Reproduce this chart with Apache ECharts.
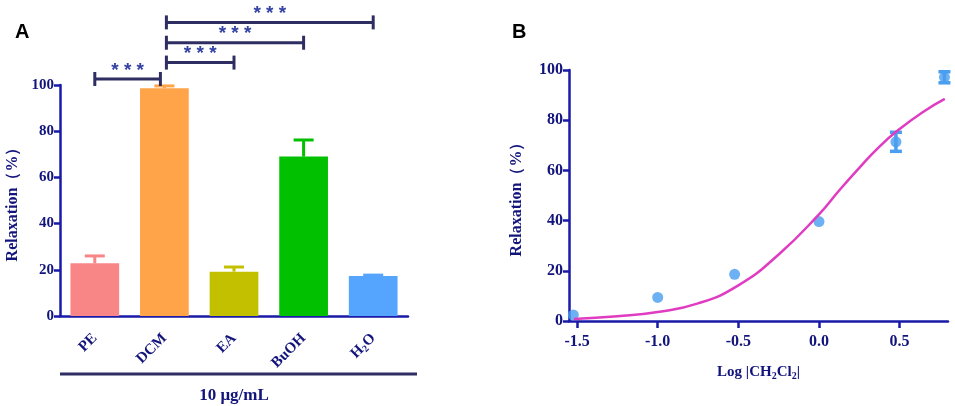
<!DOCTYPE html>
<html>
<head>
<meta charset="utf-8">
<script src="https://cdn.jsdelivr.net/npm/echarts@6/dist/echarts.min.js"></script>
<style>
  html, body { margin: 0; padding: 0; background: #fff; }
  #chart { width: 955px; height: 406px; }
</style>
</head>
<body>
<div id="chart"></div>
<script>
// Panel A: relaxation of the extracts at 10 ug/mL
var categories = ['PE', 'DCM', 'EA', 'BuOH', 'H2O'];
var barMeans = [22.8, 98.6, 19.2, 69.0, 17.3];
var barErrors = [3.2, 1.0, 2.0, 7.2, 0.4];
var barColors = ['#f98686', '#ffa449', '#c3c000', '#00c000', '#55a5ff'];

// significance brackets: start category, end category, height (axis units)
var bracketFrom = [0, 1, 1, 1];
var bracketTo = [1, 2, 3, 4];
var bracketLevels = [102.6, 109.7, 118.3, 127.1];

// Panel B: dose response for CH2Cl2 fraction
var doseLog = [-1.523, -1.0, -0.523, 0.0, 0.477, 0.778];
var doseMeans = [2.4, 9.4, 18.6, 39.6, 71.4, 97.1];
var doseErrors = [0, 0, 0, 0, 3.8, 2.2];

// fitted curve
var curveX = [-1.52, -1.25, -1.0, -0.75, -0.5, -0.25, 0.0, 0.125, 0.25, 0.375, 0.5, 0.65, 0.78];
var curveY = [0.8, 1.9, 3.6, 7.0, 14.2, 26.5, 42.5, 52.0, 61.0, 69.5, 76.5, 83.5, 88.5];

var xTicksB = [-1.5, -1.0, -0.5, 0.0, 0.5];

var axisBlue = '#1a1aa8';
var textNavy = '#12147c';
var darkLine = '#2e2e62';
var serif = '"Liberation Serif", "Times New Roman", serif';

var dom = document.getElementById('chart');
var myChart = echarts.init(dom);

function labelStyle(size) {
    return { fontFamily: serif, fontWeight: 'bold', fontSize: size, color: textNavy };
}

var subRich = {
    n: { fontFamily: serif, fontWeight: 'bold', fontSize: 15, color: textNavy, lineHeight: 18 },
    s: { fontFamily: serif, fontWeight: 'bold', fontSize: 10, color: textNavy, lineHeight: 18, padding: [8, 0, 0, 0] }
};

var option = {
    animation: false,
    graphic: [
        { type: 'text', left: 15, top: 22, style: { text: 'A', font: 'bold 20px "Liberation Sans", Arial, sans-serif', fill: '#000' } },
        { type: 'text', left: 512, top: 22, style: { text: 'B', font: 'bold 20px "Liberation Sans", Arial, sans-serif', fill: '#000' } },
        // line under the category labels of panel A
        { type: 'line', shape: { x1: 60, y1: 374, x2: 417, y2: 374 }, style: { stroke: darkLine, lineWidth: 3 } }
    ],
    grid: [
        { left: 60, top: 85, width: 348, height: 231, outerBoundsMode: 'none', containLabel: false },
        { left: 569, top: 70, width: 379, height: 251, outerBoundsMode: 'none', containLabel: false }
    ],
    xAxis: [{
        gridIndex: 0,
        type: 'category',
        data: categories,
        axisLine: { lineStyle: { color: axisBlue, width: 2.5 } },
        axisTick: { alignWithLabel: true, length: 7, lineStyle: { color: axisBlue, width: 2.5 } },
        axisLabel: {
            rotate: 45,
            margin: 20,
            fontFamily: serif, fontWeight: 'bold', fontSize: 15, color: textNavy,
            formatter: function (v) {
                if (v === 'H2O') return '{n|H}{s|2}{n|O}';
                return '{n|' + v + '}';
            },
            rich: subRich
        },
        name: '10 μg/mL',
        nameLocation: 'middle',
        nameGap: 71,
        nameTextStyle: labelStyle(17)
    }, {
        gridIndex: 1,
        type: 'value',
        min: -1.55,
        max: 0.8,
        splitLine: { show: false },
        axisLine: { onZero: false, lineStyle: { color: axisBlue, width: 2.5 } },
        axisTick: { customValues: xTicksB, length: 7, lineStyle: { color: axisBlue, width: 2.5 } },
        axisLabel: {
            customValues: xTicksB,
            margin: 13,
            fontFamily: serif, fontWeight: 'bold', fontSize: 16, color: textNavy,
            formatter: function (v) { return v.toFixed(1); }
        },
        name: '{n|Log |CH}{s|2}{n|Cl}{s|2}{n||}',
        nameLocation: 'middle',
        nameGap: 41,
        nameTextStyle: {
            rich: {
                n: { fontFamily: serif, fontWeight: 'bold', fontSize: 15, color: textNavy, lineHeight: 20 },
                s: { fontFamily: serif, fontWeight: 'bold', fontSize: 10, color: textNavy, lineHeight: 20, padding: [8, 0, 0, 0] }
            }
        }
    }],
    yAxis: [{
        gridIndex: 0,
        type: 'value',
        min: 0, max: 100, interval: 20,
        splitLine: { show: false },
        axisLine: { show: true, onZero: false, lineStyle: { color: axisBlue, width: 2.5 } },
        axisTick: { show: true, length: 6, lineStyle: { color: axisBlue, width: 2.5 } },
        axisLabel: { margin: 6, fontFamily: serif, fontWeight: 'bold', fontSize: 15, color: textNavy },
        name: 'Relaxation（%）',
        nameLocation: 'middle',
        nameGap: 39,
        nameTextStyle: labelStyle(16)
    }, {
        gridIndex: 1,
        type: 'value',
        min: 0, max: 100, interval: 20,
        splitLine: { show: false },
        axisLine: { show: true, onZero: false, lineStyle: { color: axisBlue, width: 2.5 } },
        axisTick: { show: true, length: 6, lineStyle: { color: axisBlue, width: 2.5 } },
        axisLabel: { margin: 6, fontFamily: serif, fontWeight: 'bold', fontSize: 16, color: textNavy },
        name: 'Relaxation（%）',
        nameLocation: 'middle',
        nameGap: 44,
        nameTextStyle: labelStyle(16)
    }],
    series: [{
        // bars of panel A
        type: 'bar',
        xAxisIndex: 0, yAxisIndex: 0,
        barWidth: '70%',
        data: barMeans.map(function (v, i) {
            return { value: v, itemStyle: { color: barColors[i] } };
        })
    }, {
        // upper error bars of panel A
        type: 'custom',
        xAxisIndex: 0, yAxisIndex: 0,
        data: barMeans.map(function (v, i) { return [i, v, v + barErrors[i]]; }),
        renderItem: function (params, api) {
            var i = api.value(0);
            var base = api.coord([i, api.value(1)]);
            var top = api.coord([i, api.value(2)]);
            var style = { stroke: barColors[i], lineWidth: 3 };
            return {
                type: 'group',
                children: [
                    { type: 'line', shape: { x1: base[0], y1: base[1], x2: top[0], y2: top[1] }, style: style },
                    { type: 'line', shape: { x1: top[0] - 10, y1: top[1], x2: top[0] + 10, y2: top[1] }, style: style }
                ]
            };
        }
    }, {
        // significance brackets of panel A
        type: 'custom',
        xAxisIndex: 0, yAxisIndex: 0,
        clip: false,
        data: bracketLevels.map(function (lv, k) { return [bracketFrom[k], bracketTo[k], lv]; }),
        renderItem: function (params, api) {
            var a = api.coord([api.value(0), api.value(2)]);
            var b = api.coord([api.value(1), api.value(2)]);
            var x1 = a[0] + (api.value(0) === 1 ? 2 : 0);
            var x2 = b[0] - (api.value(1) === 1 ? 4 : 0);
            var y = a[1];
            var style = { stroke: darkLine, lineWidth: 3 };
            return {
                type: 'group',
                children: [
                    { type: 'line', shape: { x1: x1, y1: y, x2: x2, y2: y }, style: style },
                    { type: 'line', shape: { x1: x1, y1: y - 7, x2: x1, y2: y + 7 }, style: style },
                    { type: 'line', shape: { x1: x2, y1: y - 7, x2: x2, y2: y + 7 }, style: style },
                    {
                        type: 'text',
                        style: {
                            x: (x1 + x2) / 2, y: y + 1,
                            text: '* * *',
                            align: 'center', verticalAlign: 'bottom',
                            font: 'bold 19px "Liberation Sans", Arial, sans-serif',
                            fill: '#3442a4'
                        }
                    }
                ]
            };
        }
    }, {
        // fitted curve of panel B
        type: 'line',
        xAxisIndex: 1, yAxisIndex: 1,
        smooth: 0.5,
        showSymbol: false,
        lineStyle: { color: '#e03cc2', width: 2.5 },
        data: curveX.map(function (x, i) { return [x, curveY[i]]; })
    }, {
        // error bars of panel B
        type: 'custom',
        xAxisIndex: 1, yAxisIndex: 1,
        clip: false,
        data: doseLog.map(function (x, i) { return [x, doseMeans[i], doseErrors[i]]; }),
        renderItem: function (params, api) {
            if (api.value(2) <= 0) return null;
            var lo = api.coord([api.value(0), api.value(1) - api.value(2)]);
            var hi = api.coord([api.value(0), api.value(1) + api.value(2)]);
            var style = { stroke: '#4a9ef0', lineWidth: 3.5 };
            return {
                type: 'group',
                children: [
                    { type: 'line', shape: { x1: lo[0], y1: lo[1], x2: hi[0], y2: hi[1] }, style: style },
                    { type: 'line', shape: { x1: lo[0] - 6, y1: lo[1], x2: lo[0] + 6, y2: lo[1] }, style: style },
                    { type: 'line', shape: { x1: hi[0] - 6, y1: hi[1], x2: hi[0] + 6, y2: hi[1] }, style: style }
                ]
            };
        }
    }, {
        // mean points of panel B
        type: 'scatter',
        xAxisIndex: 1, yAxisIndex: 1,
        symbolSize: 11,
        clip: false,
        itemStyle: { color: '#4a9ef0' },
        data: doseLog.map(function (x, i) { return [x, doseMeans[i]]; })
    }]
};

myChart.setOption(option);
</script>
</body>
</html>
